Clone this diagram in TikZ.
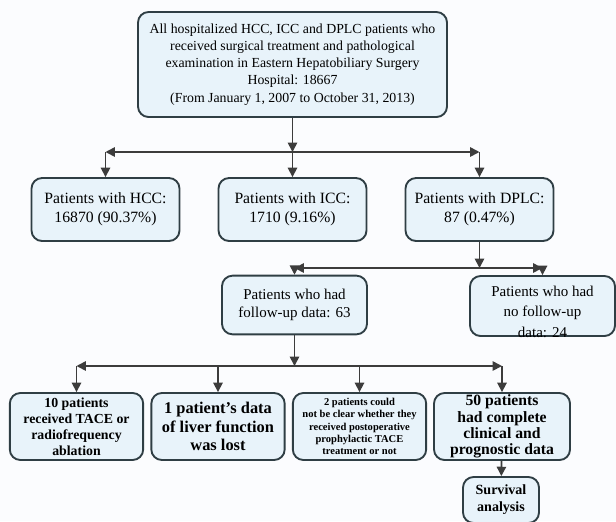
\documentclass[tikz,border=0pt]{standalone}
\usepackage{fontspec}
\setmainfont{Liberation Serif}
\usetikzlibrary{positioning,arrows.meta,calc}
\definecolor{BoxFill}{RGB}{232,243,250}
\definecolor{BoxLine}{RGB}{47,62,68}
\definecolor{ArrowGray}{RGB}{60,60,60}
\definecolor{PageTint}{RGB}{251,252,254}
\tikzset{
  flow/.style={-{Triangle[length=2.8mm,width=2.8mm]},line width=1.4pt,draw=ArrowGray},
  box/.style={draw=BoxLine,fill=BoxFill,rounded corners=9pt,line width=1.6pt,
    align=center,inner sep=1pt},
  topbox/.style={box,minimum width=9.27cm,minimum height=3.15cm,
    font=\fontsize{11.8}{14.6}\selectfont},
  groupbox/.style={box,minimum width=4.44cm,minimum height=1.89cm,
    font=\fontsize{13.4}{16.4}\selectfont},
  followbox/.style={box,minimum width=4.35cm,minimum height=1.76cm,
    font=\fontsize{12.8}{16}\selectfont},
  resultbox/.style={box,minimum width=4.0cm,minimum height=2.01cm},
  survbox/.style={box,minimum width=2.28cm,minimum height=1.38cm,
    font=\fontsize{12}{14.5}\selectfont\bfseries}
}

\begin{document}
\begin{tikzpicture}[x=0.03cm,y=-0.03cm]
  \fill[PageTint] (0,0) rectangle (616,521);
  \useasboundingbox (0,0) rectangle (616,521);

  % all patients
  \node[topbox] (all) at (292.5,64.5) {All hospitalized HCC, ICC and DPLC patients who\\
    received surgical treatment and pathological\\
    examination in Eastern Hepatobiliary Surgery\\
    Hospital: 18667\\
    (From January 1, 2007 to October 31, 2013)};

  % tumour type
  \node[groupbox] (hcc) at (105.5,209.5) {Patients with HCC:\\16870 (90.37\%)};
  \node[groupbox] (icc) at (292.5,209.5) {Patients with ICC:\\1710 (9.16\%)};
  \node[groupbox] (dplc) at (479.5,209.5) {Patients with DPLC:\\87 (0.47\%)};

  \coordinate (split1) at (292.5,152);
  \draw[flow] (all) -- (split1);
  \draw[flow] (split1) -- (hcc.north |- split1);
  \draw[flow] (split1) -- (dplc.north |- split1);
  \draw[flow] (hcc.north |- split1) -- (hcc);
  \draw[flow] (split1) -- (icc);
  \draw[flow] (dplc.north |- split1) -- (dplc);

  % follow-up
  \node[followbox] (follow) at (294.5,305) {Patients who had\\follow-up data: 63};
  \node[box,minimum width=4.35cm,minimum height=1.8cm] (nofollow) at (542.5,306) {};
  \node[below=0.2cm of nofollow.north,align=center,
    font=\fontsize{12.8}{17.5}\selectfont] (nofollowtext) {Patients who had\\no follow-up\\data: 24};

  \coordinate (split2) at (479.5,268);
  \draw[flow] (dplc) -- (split2);
  \draw[flow] (split2) -- (follow.north |- split2);
  \draw[flow] (split2) -- (nofollow.north |- split2);
  \draw[flow] (follow.north |- split2) -- (follow);
  \draw[flow] (nofollow.north |- split2) -- (nofollow);

  % exclusions and included
  \node[resultbox,font=\fontsize{11.8}{13.6}\selectfont\bfseries] (tace) at (76.5,426.5)
    {10 patients\\received TACE or\\radiofrequency\\ablation};
  \node[resultbox,font=\fontsize{14}{15.6}\selectfont\bfseries] (liver) at (218,426.5)
    {1 patient's data\\of liver function\\was lost};
  \node[resultbox,font=\fontsize{9}{10.6}\selectfont\bfseries] (unclear) at (359.5,426.5)
    {2 patients could\\not be clear whether they\\received postoperative\\prophylactic TACE\\treatment or not};
  \node[resultbox,minimum width=4.08cm,font=\fontsize{13.4}{13.8}\selectfont\bfseries] (complete) at (502,426.5)
    {50 patients\\had complete\\clinical and\\prognostic data};

  \coordinate (split3) at (294.5,366);
  \draw[flow] (follow) -- (split3);
  \draw[flow] (split3) -- (tace.north |- split3);
  \draw[flow] (split3) -- (complete.north |- split3);
  \draw[flow] (tace.north |- split3) -- (tace);
  \draw[flow] (liver.north |- split3) -- (liver);
  \draw[flow] (unclear.north |- split3) -- (unclear);
  \draw[flow] (complete.north |- split3) -- (complete);

  % survival
  \node[survbox] (survival) at (501,500) {Survival\\analysis};
  \draw[flow] (complete) -- (survival);
\end{tikzpicture}
\end{document}
